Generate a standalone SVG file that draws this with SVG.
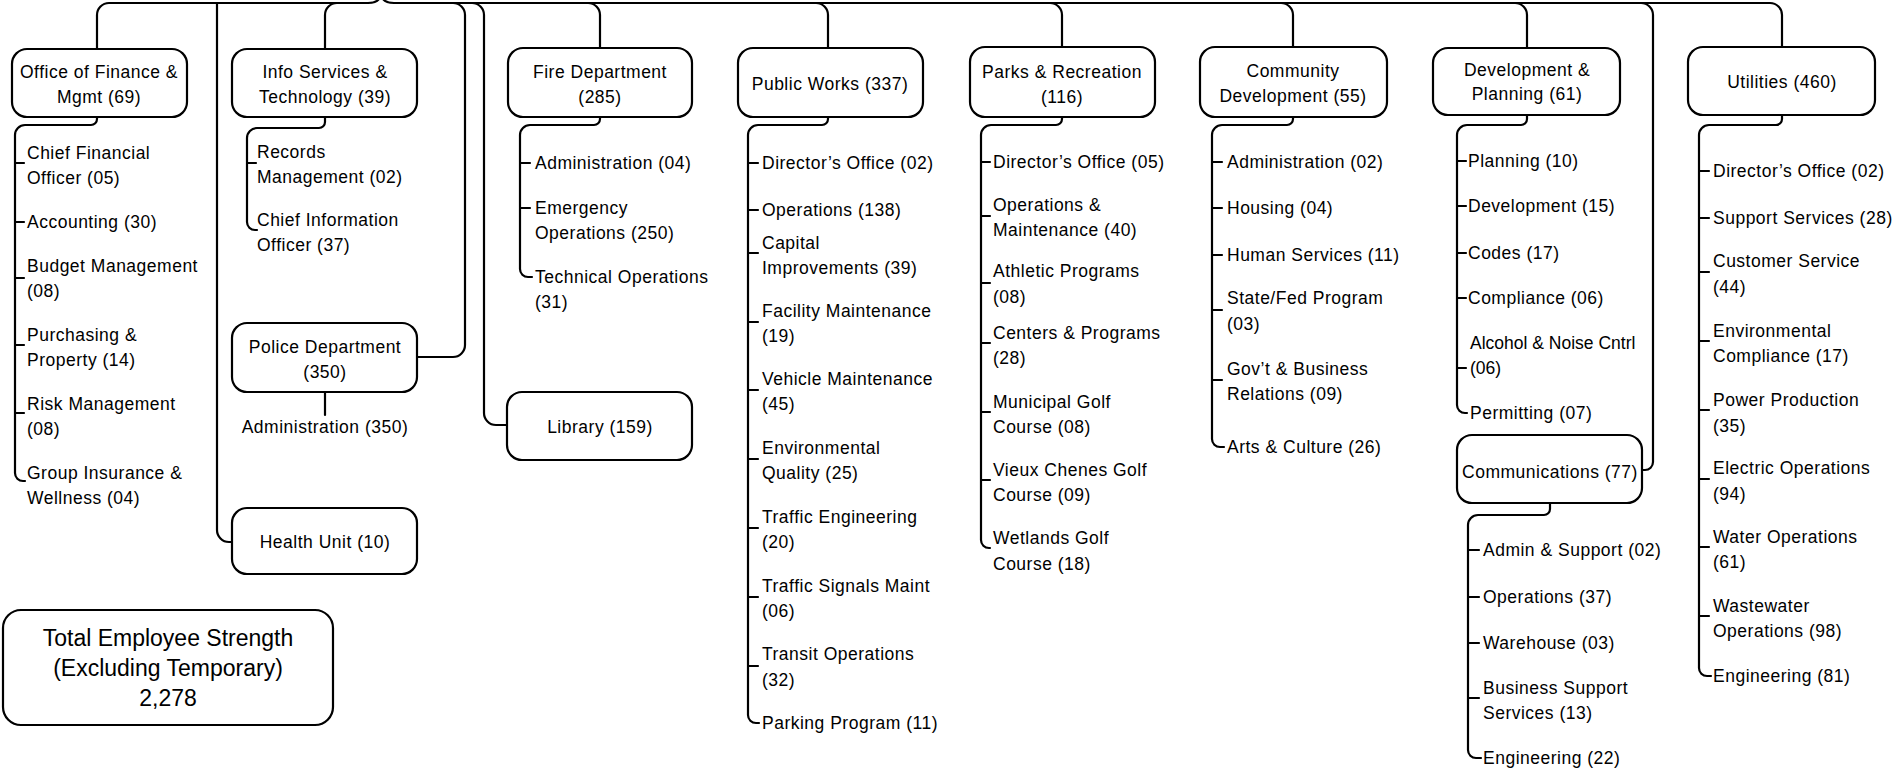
<svg xmlns="http://www.w3.org/2000/svg" width="1901" height="768" viewBox="0 0 1901 768">
<style>
.box{fill:#fff;stroke:#000;stroke-width:2.2}
.ln{fill:none;stroke:#000;stroke-width:2.2;stroke-linecap:round}
text{font-family:"Liberation Sans",Arial,sans-serif;font-size:17.5px;letter-spacing:0.5px;fill:#000}
.c{text-anchor:middle}
.big{font-size:23px;letter-spacing:0}
.tight{letter-spacing:0}
</style>
<rect width="1901" height="768" fill="#fff"/>
<g id="connectors" class="ln">
<path d="M380 -3 Q378 3 368 3 H109 A12 12 0 0 0 97 15 V49"/>
<path d="M382 -3 Q384 3 394 3 H1770 A12 12 0 0 1 1782 15 V47"/>
<path d="M217 3 V530 A12 12 0 0 0 229 542 H232"/>
<path d="M337 3 A12 12 0 0 0 325 15 V49"/>
<path d="M453 3 A12 12 0 0 1 465 15 V345 A12 12 0 0 1 453 357 H417"/>
<path d="M472 3 A12 12 0 0 1 484 15 V413 A12 12 0 0 0 496 425 H507"/>
<path d="M588 3 A12 12 0 0 1 600 15 V48"/>
<path d="M816 3 A12 12 0 0 1 828 15 V48"/>
<path d="M1050 3 A12 12 0 0 1 1062 15 V47"/>
<path d="M1281 3 A12 12 0 0 1 1293 15 V47"/>
<path d="M1515 3 A12 12 0 0 1 1527 15 V48"/>
<path d="M1641 3 A12 12 0 0 1 1653 15 V462 A8 8 0 0 1 1645 470 H1642"/>
<path d="M97 117 V119 A6 6 0 0 1 91 125 H25 A10 10 0 0 0 15 135 V473 A8 8 0 0 0 23 481 H25 M15 163 h9 M15 222 h9 M15 278 h9 M15 345 h9 M15 413 h9"/>
<path d="M325 117 V122 A6 6 0 0 1 319 128 H257 A10 10 0 0 0 247 138 V222 A8 8 0 0 0 255 230 H257 M247 163 h9"/>
<path d="M325 392 V415"/>
<path d="M600 117 V119 A6 6 0 0 1 594 125 H530 A10 10 0 0 0 520 135 V269 A8 8 0 0 0 528 277 H532 M520 163 h10 M520 208 h10"/>
<path d="M828 117 V119 A6 6 0 0 1 822 125 H758 A10 10 0 0 0 748 135 V715 A8 8 0 0 0 756 723 H759 M748 163 h10 M748 210 h10 M748 253 h10 M748 322 h10 M748 390 h10 M748 459 h10 M748 528 h10 M748 597 h10 M748 666 h10"/>
<path d="M1062 117 V119 A6 6 0 0 1 1056 125 H991 A10 10 0 0 0 981 135 V540 A8 8 0 0 0 989 548 H990 M981 162 h9 M981 216 h9 M981 283 h9 M981 343 h9 M981 412 h9 M981 480 h9"/>
<path d="M1293 117 V119 A6 6 0 0 1 1287 125 H1222 A10 10 0 0 0 1212 135 V439 A8 8 0 0 0 1220 447 H1224 M1212 162 h10 M1212 208 h10 M1212 255 h10 M1212 310 h10 M1212 380 h10"/>
<path d="M1527 115 V119 A6 6 0 0 1 1521 125 H1467 A10 10 0 0 0 1457 135 V405 A8 8 0 0 0 1465 413 H1467 M1457 161 h9 M1457 206 h9 M1457 253 h9 M1457 298 h9 M1457 368 h9"/>
<path d="M1550 503 V509 A6 6 0 0 1 1544 515 H1478 A10 10 0 0 0 1468 525 V750 A8 8 0 0 0 1476 758 H1481 M1468 550 h11 M1468 597 h11 M1468 643 h11 M1468 698 h11"/>
<path d="M1782 115 V119 A6 6 0 0 1 1776 125 H1709 A10 10 0 0 0 1699 135 V668 A8 8 0 0 0 1707 676 H1711 M1699 171 h10 M1699 218 h10 M1699 272 h10 M1699 341 h10 M1699 410 h10 M1699 479 h10 M1699 547 h10 M1699 616 h10"/>
</g>
<g id="finance"><rect class="box" x="12" y="49" width="175" height="68" rx="15"/><text class="c" x="99" y="78">Office of Finance &amp;</text><text class="c" x="99" y="103">Mgmt (69)</text></g>
<g id="finance-units">
<text x="27" y="159">Chief Financial<tspan x="27" dy="25">Officer (05)</tspan></text>
<text x="27" y="228">Accounting (30)</text>
<text x="27" y="272">Budget Management<tspan x="27" dy="25">(08)</tspan></text>
<text x="27" y="341">Purchasing &amp;<tspan x="27" dy="25">Property (14)</tspan></text>
<text x="27" y="410">Risk Management<tspan x="27" dy="25">(08)</tspan></text>
<text x="27" y="479">Group Insurance &amp;<tspan x="27" dy="25">Wellness (04)</tspan></text>
</g>
<g id="info"><rect class="box" x="232" y="49" width="185" height="68" rx="15"/><text class="c" x="325" y="78">Info Services &amp;</text><text class="c" x="325" y="103">Technology (39)</text></g>
<g id="info-units">
<text x="257" y="158">Records<tspan x="257" dy="25">Management (02)</tspan></text>
<text x="257" y="226">Chief Information<tspan x="257" dy="25">Officer (37)</tspan></text>
</g>
<g id="police"><rect class="box" x="232" y="323" width="185" height="69" rx="15"/><text class="c" x="325" y="353">Police Department</text><text class="c" x="325" y="378">(350)</text></g>
<g id="police-units"><text class="c" x="325" y="433">Administration (350)</text></g>
<g id="health"><rect class="box" x="232" y="508" width="185" height="66" rx="15"/><text class="c" x="325" y="548">Health Unit (10)</text></g>
<g id="library"><rect class="box" x="507" y="392" width="185" height="68" rx="15"/><text class="c" x="600" y="433">Library (159)</text></g>
<g id="fire"><rect class="box" x="508" y="48" width="184" height="69" rx="15"/><text class="c" x="600" y="78">Fire Department</text><text class="c" x="600" y="103">(285)</text></g>
<g id="fire-units">
<text x="535" y="169">Administration (04)</text>
<text x="535" y="214">Emergency<tspan x="535" dy="25">Operations (250)</tspan></text>
<text x="535" y="283">Technical Operations<tspan x="535" dy="25">(31)</tspan></text>
</g>
<g id="publicworks"><rect class="box" x="738" y="48" width="185" height="69" rx="15"/><text class="c" x="830" y="90">Public Works (337)</text></g>
<g id="publicworks-units">
<text x="762" y="169">Director’s Office (02)</text>
<text x="762" y="216">Operations (138)</text>
<text x="762" y="249">Capital<tspan x="762" dy="25">Improvements (39)</tspan></text>
<text x="762" y="317">Facility Maintenance<tspan x="762" dy="25">(19)</tspan></text>
<text x="762" y="385">Vehicle Maintenance<tspan x="762" dy="25">(45)</tspan></text>
<text x="762" y="454">Environmental<tspan x="762" dy="25">Quality (25)</tspan></text>
<text x="762" y="523">Traffic Engineering<tspan x="762" dy="25">(20)</tspan></text>
<text x="762" y="592">Traffic Signals Maint<tspan x="762" dy="25">(06)</tspan></text>
<text x="762" y="660">Transit Operations<tspan x="762" dy="26">(32)</tspan></text>
<text x="762" y="729">Parking Program (11)</text>
</g>
<g id="parks"><rect class="box" x="970" y="47" width="185" height="70" rx="15"/><text class="c" x="1062" y="78">Parks &amp; Recreation</text><text class="c" x="1062" y="103">(116)</text></g>
<g id="parks-units">
<text x="993" y="168">Director’s Office (05)</text>
<text x="993" y="211">Operations &amp;<tspan x="993" dy="25">Maintenance (40)</tspan></text>
<text x="993" y="277">Athletic Programs<tspan x="993" dy="26">(08)</tspan></text>
<text x="993" y="339">Centers &amp; Programs<tspan x="993" dy="25">(28)</tspan></text>
<text x="993" y="408">Municipal Golf<tspan x="993" dy="25">Course (08)</tspan></text>
<text x="993" y="476">Vieux Chenes Golf<tspan x="993" dy="25">Course (09)</tspan></text>
<text x="993" y="544">Wetlands Golf<tspan x="993" dy="26">Course (18)</tspan></text>
</g>
<g id="community"><rect class="box" x="1200" y="47" width="187" height="70" rx="15"/><text class="c" x="1293" y="77">Community</text><text class="c" x="1293" y="102">Development (55)</text></g>
<g id="community-units">
<text x="1227" y="168">Administration (02)</text>
<text x="1227" y="214">Housing (04)</text>
<text x="1227" y="261">Human Services (11)</text>
<text x="1227" y="304">State/Fed Program<tspan x="1227" dy="26">(03)</tspan></text>
<text x="1227" y="375">Gov’t &amp; Business<tspan x="1227" dy="25">Relations (09)</tspan></text>
<text x="1227" y="453">Arts &amp; Culture (26)</text>
</g>
<g id="devplanning"><rect class="box" x="1433" y="48" width="187" height="67" rx="15"/><text class="c" x="1527" y="76">Development &amp;</text><text class="c" x="1527" y="100">Planning (61)</text></g>
<g id="devplanning-units">
<text x="1468" y="167">Planning (10)</text>
<text x="1468" y="212">Development (15)</text>
<text x="1468" y="259">Codes (17)</text>
<text x="1468" y="304">Compliance (06)</text>
<text class="tight" x="1470" y="349">Alcohol &amp; Noise Cntrl<tspan x="1470" dy="25">(06)</tspan></text>
<text x="1470" y="419">Permitting (07)</text>
</g>
<g id="communications"><rect class="box" x="1457" y="435" width="185" height="68" rx="15"/><text class="c" x="1550" y="478">Communications (77)</text></g>
<g id="communications-units">
<text x="1483" y="556">Admin &amp; Support (02)</text>
<text x="1483" y="603">Operations (37)</text>
<text x="1483" y="649">Warehouse (03)</text>
<text x="1483" y="694">Business Support<tspan x="1483" dy="25">Services (13)</tspan></text>
<text x="1483" y="764">Engineering (22)</text>
</g>
<g id="utilities"><rect class="box" x="1688" y="47" width="187" height="68" rx="15"/><text class="c" x="1782" y="88">Utilities (460)</text></g>
<g id="utilities-units">
<text x="1713" y="177">Director’s Office (02)</text>
<text x="1713" y="224">Support Services (28)</text>
<text x="1713" y="267">Customer Service<tspan x="1713" dy="26">(44)</tspan></text>
<text x="1713" y="337">Environmental<tspan x="1713" dy="25">Compliance (17)</tspan></text>
<text x="1713" y="406">Power Production<tspan x="1713" dy="26">(35)</tspan></text>
<text x="1713" y="474">Electric Operations<tspan x="1713" dy="26">(94)</tspan></text>
<text x="1713" y="543">Water Operations<tspan x="1713" dy="25">(61)</tspan></text>
<text x="1713" y="612">Wastewater<tspan x="1713" dy="25">Operations (98)</tspan></text>
<text x="1713" y="682">Engineering (81)</text>
</g>
<g id="total"><rect class="box" x="3" y="610" width="330" height="115" rx="18"/><text class="c big" x="168" y="646">Total Employee Strength</text><text class="c big" x="168" y="676">(Excluding Temporary)</text><text class="c big" x="168" y="706">2,278</text></g>
</svg>
